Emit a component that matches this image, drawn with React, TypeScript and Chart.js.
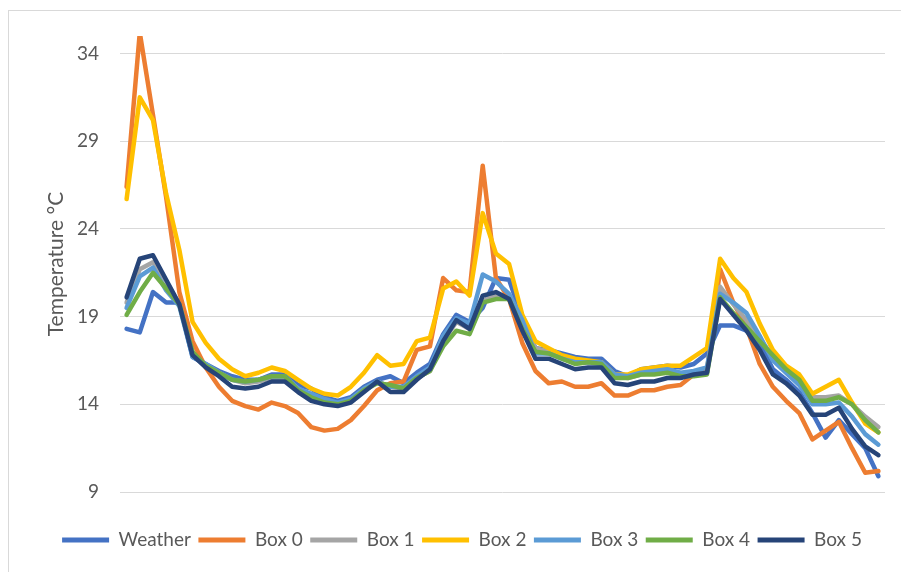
import React, { useEffect, useRef } from "react";
import { Chart, registerables } from "chart.js";

Chart.register(...registerables);

const categories = [
  "1", "2", "3", "4", "5", "6", "7", "8", "9", "10",
  "11", "12", "13", "14", "15", "16", "17", "18", "19", "20",
  "21", "22", "23", "24", "25", "26", "27", "28", "29", "30",
  "31", "32", "33", "34", "35", "36", "37", "38", "39", "40",
  "41", "42", "43", "44", "45", "46", "47", "48", "49", "50",
  "51", "52", "53", "54", "55", "56", "57", "58",
];

const yTicks = [9, 14, 19, 24, 29, 34];

const weather = [
  18.3, 18.1, 20.4, 19.8, 19.8, 16.7, 16.3, 15.9, 15.6, 15.4,
  15.4, 15.7, 15.7, 15.1, 14.9, 14.4, 14.2, 14.4, 15.0, 15.4,
  15.6, 15.2, 15.8, 16.3, 18.0, 19.1, 18.7, 19.5, 21.2, 21.1,
  18.9, 17.2, 17.1, 16.9, 16.7, 16.6, 16.6, 15.9, 15.6, 16.0,
  16.1, 16.2, 16.1, 16.3, 16.9, 18.5, 18.5, 18.2, 17.5, 16.0,
  15.4, 14.7, 13.5, 12.1, 13.1, 12.3, 11.5, 9.9,
];

const box0 = [
  26.4, 35.2, 30.5, 25.8, 20.4, 17.6, 16.1, 15.0, 14.2, 13.9,
  13.7, 14.1, 13.9, 13.5, 12.7, 12.5, 12.6, 13.1, 13.9, 14.8,
  15.2, 15.3, 17.1, 17.3, 21.2, 20.5, 20.4, 27.6, 21.2, 20.0,
  17.5, 15.9, 15.2, 15.3, 15.0, 15.0, 15.2, 14.5, 14.5, 14.8,
  14.8, 15.0, 15.1, 15.7, 15.9, 21.7, 19.8, 18.4, 16.3, 15.0,
  14.2, 13.5, 12.0, 12.5, 13.0, 11.5, 10.1, 10.2,
];

const box1 = [
  19.8, 21.7, 22.1, 21.0, 19.7, 16.9, 16.2, 15.8, 15.4, 15.2,
  15.3, 15.5, 15.5, 14.9, 14.5, 14.2, 14.0, 14.3, 14.8, 15.3,
  15.0, 14.9, 15.5, 15.9, 17.6, 18.7, 18.3, 19.9, 20.2, 20.0,
  18.5, 17.2, 17.0, 16.7, 16.4, 16.4, 16.4, 15.6, 15.5, 15.7,
  15.8, 15.9, 15.6, 15.7, 15.8, 20.7, 19.7, 18.8, 17.7, 16.8,
  16.1, 15.5, 14.4, 14.4, 14.5, 14.0, 13.3, 12.7,
];

const box2 = [
  25.7, 31.5, 30.2, 26.0, 22.8, 18.7, 17.5, 16.6, 16.0, 15.6,
  15.8, 16.1, 15.9, 15.4, 14.9, 14.6, 14.5, 15.0, 15.8, 16.8,
  16.2, 16.3, 17.6, 17.8, 20.6, 21.0, 20.2, 24.9, 22.6, 22.0,
  19.1, 17.6, 17.2, 16.8, 16.6, 16.5, 16.4, 15.7, 15.7, 16.0,
  16.1, 16.2, 16.2, 16.7, 17.2, 22.3, 21.2, 20.4, 18.6, 17.1,
  16.2, 15.7, 14.6, 15.0, 15.4, 14.1, 12.9, 12.4,
];

const box3 = [
  19.5, 21.3, 21.8, 20.5, 19.6, 16.7, 16.3, 15.8, 15.4, 15.3,
  15.4, 15.6, 15.6, 14.9, 14.6, 14.3, 14.1, 14.3, 14.9, 15.3,
  15.0, 15.0, 15.6, 16.1, 17.9, 18.9, 18.6, 21.4, 21.0, 20.3,
  18.8, 16.9, 16.9, 16.6, 16.4, 16.4, 16.4, 15.7, 15.6, 15.8,
  15.9, 16.0, 15.8, 15.9, 16.1, 20.3, 19.8, 19.2, 17.9, 16.5,
  15.8, 15.1, 14.0, 14.0, 14.1, 13.3, 12.3, 11.7,
];

const box4 = [
  19.1, 20.4, 21.5, 20.6, 19.7, 17.0, 16.2, 15.8, 15.4, 15.3,
  15.4, 15.6, 15.6, 14.8, 14.4, 14.1, 14.0, 14.2, 14.8, 15.2,
  15.1, 14.9, 15.5, 15.9, 17.3, 18.2, 18.0, 19.8, 20.0, 20.0,
  18.3, 17.0, 16.9, 16.6, 16.3, 16.4, 16.3, 15.5, 15.5, 15.7,
  15.7, 15.8, 15.6, 15.6, 15.7, 20.1, 19.2, 18.4, 17.6, 16.8,
  16.0, 15.4, 14.2, 14.2, 14.4, 14.0, 13.1, 12.4,
];

const box5 = [
  20.1, 22.3, 22.5, 21.1, 19.7, 16.8, 16.1, 15.6, 15.0, 14.9,
  15.0, 15.3, 15.3, 14.7, 14.2, 14.0, 13.9, 14.1, 14.7, 15.3,
  14.7, 14.7, 15.4, 16.0, 17.6, 18.8, 18.3, 20.2, 20.4, 20.0,
  18.2, 16.6, 16.6, 16.3, 16.0, 16.1, 16.1, 15.2, 15.1, 15.3,
  15.3, 15.5, 15.5, 15.7, 15.8, 20.0, 19.1, 18.2, 17.1, 15.7,
  15.2, 14.5, 13.4, 13.4, 13.8, 12.6, 11.6, 11.1,
];

const seriesNames = ["Weather", "Box 0", "Box 1", "Box 2", "Box 3", "Box 4", "Box 5"];
const seriesValues = [weather, box0, box1, box2, box3, box4, box5];
const seriesColors = ["#4472C4", "#ED7D31", "#A5A5A5", "#FFC000", "#5B9BD5", "#70AD47", "#264478"];

const FONT = "Lato, 'Open Sans', sans-serif";
const TEXT = "#595959";

export default function App() {
  const canvasRef = useRef<HTMLCanvasElement | null>(null);

  useEffect(() => {
    const canvas = canvasRef.current;
    if (!canvas) return;
    const chart = new Chart(canvas, {
      type: "line",
      data: {
        labels: categories,
        datasets: seriesNames.map((name, i) => ({
          label: name,
          data: seriesValues[i],
          borderColor: seriesColors[i],
          backgroundColor: seriesColors[i],
          borderWidth: 4.5,
          pointRadius: 0,
          pointHoverRadius: 0,
          tension: 0,
          fill: false,
          borderJoinStyle: "round" as const,
          borderCapStyle: "round" as const,
          order: seriesNames.length - 1 - i,
        })),
      },
      options: {
        responsive: false,
        animation: false,
        events: [],
        layout: { padding: { left: 30, top: 25, right: 16, bottom: 12.5 } },
        plugins: {
          tooltip: { enabled: false },
          legend: {
            position: "bottom",
            labels: {
              boxWidth: 47,
              boxHeight: 5,
              padding: 7.5,
              color: TEXT,
              font: { family: FONT, size: 19 },
              useBorderRadius: true,
              borderRadius: 2.5,
              generateLabels: (ch: any) =>
                ch.data.datasets.map((ds: any, i: number) => ({
                  text: ds.label,
                  fillStyle: ds.borderColor,
                  strokeStyle: ds.borderColor,
                  lineWidth: 0,
                  hidden: false,
                  datasetIndex: i,
                  fontColor: TEXT,
                })),
            },
          },
        },
        scales: {
          x: {
            type: "category",
            offset: true,
            grid: { display: false },
            border: { display: false },
            ticks: { display: false },
            afterFit: (s: any) => {
              s.height = 31;
            },
          },
          y: {
            min: 9,
            max: 35,
            afterBuildTicks: (s: any) => {
              s.ticks = yTicks.map((v) => ({ value: v }));
            },
            afterFit: (s: any) => {
              s.width = 81;
            },
            grid: {
              color: "#d9d9d9",
              lineWidth: 1,
              drawTicks: true,
              tickLength: 21,
              tickColor: "rgba(0,0,0,0)",
            },
            border: { display: false },
            ticks: {
              padding: 0,
              color: TEXT,
              font: { family: FONT, size: 19 },
            },
            title: {
              display: true,
              text: "Temperature °C",
              color: TEXT,
              font: { family: FONT, size: 21 },
              padding: { top: 4.4, bottom: 0 },
            },
          },
        },
      },
    } as any);
    return () => {
      chart.destroy();
    };
  }, []);

  return (
    <div
      style={{
        position: "fixed",
        left: 0,
        top: 0,
        width: 901,
        height: 572,
        overflow: "hidden",
        background: "#ffffff",
      }}
    >
      <div
        style={{
          position: "absolute",
          left: 8,
          top: 10,
          width: 900,
          height: 570,
          border: "1px solid #d9d9d9",
          boxSizing: "border-box",
        }}
      >
        <canvas
          ref={canvasRef}
          width={892}
          height={561}
          style={{ position: "absolute", left: 0, top: 0, width: 892, height: 561 }}
        />
      </div>
    </div>
  );
}
